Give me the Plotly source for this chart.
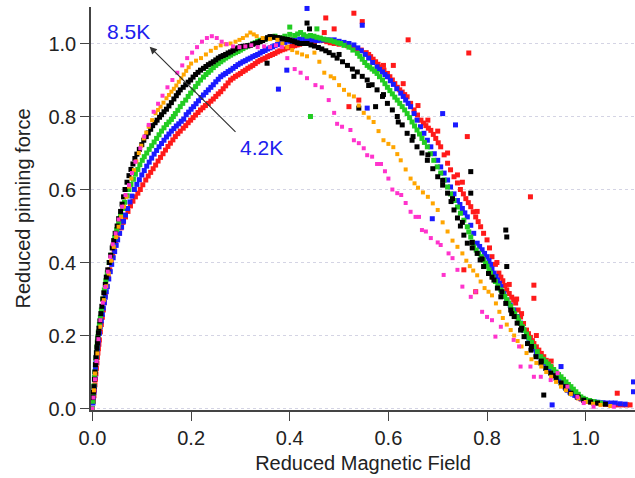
import plotly.graph_objects as go

# (reduced field, reduced pinning force) pairs
red_pts = [(0,0),(0.002,0.02),(0.003,0.035),(0.004,0.05),(0.005,0.065),(0.006,0.08),(0.007,0.095),(0.008,0.11),(0.009,0.125),(0.01,0.14),(0.011,0.152),(0.012,0.164),(0.013,0.176),(0.014,0.188),(0.016,0.21),(0.018,0.23),(0.02,0.25),(0.022,0.27),(0.024,0.29),(0.026,0.31),(0.029,0.335),(0.032,0.36),(0.035,0.38),(0.038,0.4),(0.041,0.42),(0.044,0.435),(0.047,0.45),(0.05,0.465),(0.054,0.48),(0.058,0.495),(0.062,0.51),(0.067,0.525),(0.072,0.54),(0.077,0.555),(0.082,0.568),(0.087,0.58),(0.092,0.59),(0.097,0.60),(0.102,0.613),(0.108,0.626),(0.113,0.637),(0.118,0.647),(0.123,0.657),(0.128,0.667),(0.133,0.678),(0.138,0.688),(0.143,0.698),(0.148,0.708),(0.153,0.718),(0.158,0.727),(0.163,0.736),(0.168,0.745),(0.173,0.753),(0.178,0.76),(0.184,0.768),(0.189,0.775),(0.194,0.783),(0.199,0.79),(0.204,0.797),(0.209,0.804),(0.214,0.811),(0.219,0.818),(0.224,0.824),(0.229,0.83),(0.235,0.836),(0.24,0.842),(0.245,0.848),(0.25,0.855),(0.255,0.862),(0.26,0.868),(0.265,0.876),(0.27,0.884),(0.275,0.892),(0.28,0.9),(0.285,0.905),(0.29,0.91),(0.295,0.914),(0.30,0.918),(0.305,0.923),(0.31,0.927),(0.315,0.932),(0.32,0.936),(0.325,0.94),(0.33,0.945),(0.335,0.95),(0.34,0.954),(0.345,0.957),(0.35,0.96),(0.355,0.964),(0.36,0.967),(0.365,0.97),(0.37,0.973),(0.375,0.977),(0.38,0.98),(0.385,0.983),(0.39,0.985),(0.395,0.988),(0.40,0.99),(0.405,0.992),(0.41,0.994),(0.415,0.996),(0.42,0.998),(0.43,1.0),(0.44,1.002),(0.45,1.005),(0.456,1.008),(0.462,1.012),(0.468,1.008),(0.475,1.005),(0.482,1.002),(0.49,1.0),(0.50,0.998),(0.51,1.0),(0.517,0.994),(0.525,0.99),(0.535,0.986),(0.545,0.982),(0.555,0.975),(0.56,0.97),(0.564,0.964),(0.569,0.957),(0.574,0.95),(0.579,0.943),(0.584,0.936),(0.591,0.927),(0.598,0.918),(0.603,0.909),(0.608,0.9),(0.613,0.89),(0.618,0.88),(0.623,0.873),(0.628,0.867),(0.633,0.86),(0.638,0.854),(0.645,0.836),(0.652,0.818),(0.659,0.804),(0.666,0.79),(0.671,0.782),(0.676,0.775),(0.681,0.768),(0.686,0.762),(0.691,0.751),(0.696,0.74),(0.701,0.728),(0.706,0.717),(0.713,0.695),(0.72,0.672),(0.726,0.654),(0.733,0.635),(0.74,0.618),(0.746,0.60),(0.752,0.588),(0.757,0.575),(0.762,0.564),(0.767,0.553),(0.772,0.539),(0.777,0.525),(0.782,0.512),(0.787,0.498),(0.793,0.48),(0.80,0.462),(0.805,0.44),(0.81,0.416),(0.817,0.395),(0.824,0.371),(0.828,0.36),(0.832,0.35),(0.836,0.337),(0.84,0.325),(0.845,0.315),(0.85,0.305),(0.854,0.297),(0.858,0.289),(0.863,0.27),(0.868,0.251),(0.874,0.233),(0.88,0.215),(0.884,0.205),(0.888,0.195),(0.892,0.186),(0.895,0.178),(0.9,0.169),(0.905,0.16),(0.91,0.151),(0.915,0.142),(0.92,0.132),(0.925,0.123),(0.93,0.114),(0.935,0.105),(0.94,0.096),(0.945,0.088),(0.95,0.079),(0.955,0.07),(0.96,0.062),(0.966,0.055),(0.971,0.048),(0.976,0.042),(0.981,0.036),(0.986,0.03),(0.991,0.026),(0.996,0.023),(1.003,0.02),(1.01,0.018),(1.017,0.016),(1.024,0.015),(1.032,0.013),(1.04,0.012),(1.048,0.011),(1.057,0.01),(1.066,0.01),(1.075,0.01),(1.083,0.01),(1.09,0.01),
           (0.66,0.83),(0.70,0.76),(0.72,0.70),(0.74,0.64),(0.78,0.54),(0.82,0.40),(0.86,0.30),(0.90,0.20),(0.93,0.13),(0.63,0.89),(0.59,0.94),(0.68,0.79),(0.75,0.62),(0.845,0.34),(0.87,0.26),
           (0.473,1.07),(0.53,1.083),(0.547,1.06),(0.49,1.04),(0.64,1.01),(0.763,0.974),(0.76,0.745),(0.888,0.58),(0.54,0.845),(0.52,0.827),(0.895,0.338),(0.895,0.302),(0.753,0.38),(0.777,0.32),(1.064,0.042),(0.47,1.03),(0.61,0.94)]

blue_pts = [(0,0),(0.001,0.015),(0.002,0.03),(0.003,0.045),(0.004,0.06),(0.005,0.085),(0.006,0.11),(0.007,0.125),(0.008,0.14),(0.009,0.152),(0.01,0.164),(0.011,0.176),(0.012,0.188),(0.014,0.206),(0.016,0.224),(0.018,0.24),(0.02,0.258),(0.022,0.275),(0.024,0.29),(0.026,0.305),(0.028,0.32),(0.03,0.334),(0.033,0.355),(0.036,0.375),(0.039,0.395),(0.042,0.413),(0.045,0.43),(0.048,0.447),(0.051,0.462),(0.055,0.48),(0.059,0.497),(0.063,0.513),(0.067,0.53),(0.071,0.548),(0.076,0.566),(0.08,0.582),(0.085,0.60),(0.09,0.614),(0.095,0.627),(0.1,0.64),(0.105,0.652),(0.11,0.664),(0.115,0.675),(0.12,0.686),(0.125,0.697),(0.13,0.707),(0.135,0.717),(0.14,0.726),(0.145,0.735),(0.15,0.744),(0.155,0.752),(0.16,0.76),(0.165,0.767),(0.17,0.774),(0.175,0.78),(0.18,0.787),(0.185,0.793),(0.19,0.805),(0.195,0.812),(0.2,0.82),(0.205,0.827),(0.21,0.835),(0.215,0.843),(0.22,0.852),(0.225,0.859),(0.23,0.866),(0.235,0.873),(0.24,0.88),(0.245,0.887),(0.25,0.895),(0.255,0.902),(0.26,0.909),(0.265,0.914),(0.27,0.918),(0.275,0.923),(0.28,0.927),(0.285,0.932),(0.29,0.937),(0.295,0.942),(0.30,0.946),(0.305,0.95),(0.31,0.953),(0.315,0.957),(0.32,0.96),(0.325,0.964),(0.33,0.967),(0.335,0.97),(0.34,0.974),(0.345,0.978),(0.35,0.981),(0.355,0.985),(0.36,0.988),(0.365,0.991),(0.37,0.994),(0.375,0.997),(0.38,1.0),(0.39,1.003),(0.40,1.006),(0.41,1.01),(0.42,1.012),(0.43,1.012),(0.44,1.01),(0.447,1.009),(0.455,1.008),(0.462,1.009),(0.47,1.01),(0.48,1.01),(0.49,1.01),(0.50,1.006),(0.51,1.003),(0.52,1.0),(0.53,0.996),(0.538,0.988),(0.545,0.98),(0.553,0.97),(0.56,0.96),(0.568,0.948),(0.577,0.936),(0.582,0.929),(0.588,0.922),(0.593,0.915),(0.598,0.909),(0.604,0.898),(0.61,0.888),(0.617,0.876),(0.625,0.864),(0.63,0.855),(0.635,0.845),(0.64,0.836),(0.645,0.827),(0.652,0.808),(0.658,0.79),(0.665,0.772),(0.672,0.754),(0.679,0.735),(0.686,0.717),(0.693,0.698),(0.70,0.68),(0.706,0.662),(0.713,0.645),(0.72,0.626),(0.726,0.607),(0.733,0.588),(0.74,0.57),(0.745,0.559),(0.75,0.548),(0.755,0.536),(0.76,0.525),(0.767,0.502),(0.773,0.48),(0.78,0.453),(0.785,0.444),(0.79,0.435),(0.795,0.425),(0.80,0.416),(0.804,0.405),(0.807,0.395),(0.81,0.383),(0.814,0.371),(0.818,0.362),(0.821,0.352),(0.825,0.343),(0.828,0.334),(0.834,0.315),(0.84,0.297),(0.847,0.283),(0.854,0.27),(0.861,0.252),(0.868,0.234),(0.874,0.215),(0.88,0.197),(0.885,0.186),(0.89,0.175),(0.895,0.163),(0.90,0.152),(0.905,0.142),(0.91,0.133),(0.916,0.124),(0.922,0.115),(0.927,0.107),(0.932,0.1),(0.938,0.093),(0.943,0.087),(0.948,0.077),(0.953,0.068),(0.958,0.059),(0.963,0.05),(0.968,0.045),(0.973,0.04),(0.978,0.036),(0.983,0.032),(0.99,0.028),(0.996,0.024),(1.003,0.021),(1.01,0.019),(1.018,0.018),(1.025,0.017),(1.035,0.016),(1.044,0.015),(1.052,0.015),(1.06,0.015),(1.07,0.013),(1.08,0.012),
            (0.435,1.096),(0.547,1.05),(0.557,0.823),(0.71,0.808),(0.736,0.777),(0.689,0.52),(1.097,0.073),(1.097,0.046),(0.95,0.115),(0.932,0.01),(0.394,0.927),(0.377,0.875)]

green_pts = [(0,0),(0.001,0.02),(0.002,0.04),(0.003,0.062),(0.004,0.085),(0.005,0.1),(0.006,0.12),(0.007,0.137),(0.008,0.153),(0.009,0.17),(0.01,0.184),(0.011,0.197),(0.012,0.21),(0.014,0.23),(0.016,0.25),(0.018,0.27),(0.021,0.3),(0.024,0.325),(0.027,0.35),(0.03,0.372),(0.034,0.4),(0.037,0.42),(0.041,0.445),(0.045,0.468),(0.049,0.49),(0.053,0.51),(0.057,0.53),(0.061,0.548),(0.065,0.565),(0.07,0.583),(0.074,0.60),(0.078,0.614),(0.083,0.628),(0.087,0.642),(0.092,0.655),(0.096,0.668),(0.101,0.68),(0.105,0.69),(0.11,0.70),(0.115,0.71),(0.12,0.72),(0.125,0.73),(0.13,0.74),(0.135,0.75),(0.14,0.76),(0.145,0.769),(0.15,0.778),(0.155,0.785),(0.16,0.792),(0.164,0.80),(0.168,0.808),(0.173,0.817),(0.178,0.827),(0.183,0.836),(0.189,0.845),(0.194,0.855),(0.199,0.864),(0.204,0.873),(0.209,0.882),(0.214,0.891),(0.219,0.90),(0.225,0.908),(0.23,0.915),(0.235,0.921),(0.24,0.927),(0.245,0.934),(0.25,0.94),(0.255,0.945),(0.26,0.95),(0.265,0.955),(0.27,0.96),(0.275,0.964),(0.28,0.968),(0.285,0.972),(0.29,0.975),(0.295,0.978),(0.30,0.982),(0.305,0.986),(0.31,0.99),(0.315,0.993),(0.32,0.995),(0.325,0.999),(0.33,1.002),(0.335,1.006),(0.34,1.009),(0.35,1.012),(0.36,1.015),(0.37,1.02),(0.38,1.016),(0.39,1.02),(0.40,1.025),(0.41,1.022),(0.416,1.026),(0.422,1.03),(0.428,1.024),(0.435,1.02),(0.442,1.022),(0.449,1.02),(0.455,1.017),(0.462,1.015),(0.469,1.012),(0.476,1.01),(0.483,1.008),(0.49,1.005),(0.497,1.002),(0.503,1.0),(0.51,0.995),(0.52,0.99),(0.528,0.982),(0.537,0.973),(0.542,0.965),(0.547,0.957),(0.552,0.948),(0.557,0.94),(0.562,0.935),(0.567,0.93),(0.572,0.924),(0.577,0.918),(0.582,0.909),(0.588,0.9),(0.593,0.89),(0.598,0.88),(0.603,0.871),(0.608,0.862),(0.613,0.853),(0.618,0.845),(0.623,0.836),(0.628,0.827),(0.633,0.818),(0.638,0.808),(0.643,0.797),(0.648,0.785),(0.653,0.774),(0.658,0.763),(0.663,0.752),(0.668,0.74),(0.673,0.729),(0.679,0.717),(0.685,0.698),(0.692,0.68),(0.699,0.662),(0.706,0.645),(0.713,0.626),(0.72,0.607),(0.726,0.588),(0.733,0.57),(0.74,0.552),(0.746,0.535),(0.753,0.516),(0.76,0.498),(0.763,0.484),(0.767,0.47),(0.77,0.456),(0.773,0.443),(0.778,0.434),(0.783,0.425),(0.788,0.416),(0.793,0.407),(0.797,0.398),(0.8,0.39),(0.804,0.38),(0.807,0.371),(0.812,0.36),(0.817,0.348),(0.822,0.336),(0.828,0.325),(0.832,0.316),(0.836,0.307),(0.84,0.298),(0.844,0.289),(0.848,0.28),(0.852,0.27),(0.856,0.26),(0.861,0.251),(0.864,0.242),(0.868,0.233),(0.872,0.224),(0.875,0.215),(0.88,0.204),(0.885,0.193),(0.89,0.181),(0.895,0.17),(0.902,0.156),(0.909,0.142),(0.914,0.135),(0.919,0.128),(0.924,0.122),(0.929,0.115),(0.935,0.107),(0.94,0.1),(0.945,0.093),(0.95,0.087),(0.955,0.08),(0.96,0.073),(0.965,0.066),(0.97,0.06),(0.975,0.053),(0.98,0.046),(0.985,0.039),(0.99,0.032),(0.995,0.028),(1.0,0.025),(1.008,0.022),(1.016,0.019),(1.023,0.017),(1.03,0.015),
             (0.442,0.80),(0.40,1.045),(0.455,1.04)]

black_pts = [(0.001,0.03),(0.002,0.045),(0.003,0.06),(0.004,0.08),(0.005,0.1),(0.006,0.12),(0.007,0.14),(0.008,0.153),(0.009,0.167),(0.01,0.18),(0.011,0.193),(0.012,0.207),(0.013,0.22),(0.015,0.24),(0.017,0.26),(0.019,0.28),(0.021,0.3),(0.023,0.317),(0.026,0.34),(0.028,0.36),(0.031,0.38),(0.034,0.4),(0.037,0.42),(0.04,0.44),(0.043,0.46),(0.046,0.48),(0.05,0.5),(0.053,0.52),(0.057,0.54),(0.06,0.56),(0.063,0.58),(0.066,0.6),(0.07,0.62),(0.074,0.638),(0.078,0.655),(0.082,0.67),(0.086,0.685),(0.09,0.697),(0.095,0.71),(0.1,0.723),(0.104,0.735),(0.109,0.745),(0.113,0.755),(0.118,0.765),(0.122,0.775),(0.127,0.783),(0.131,0.79),(0.136,0.798),(0.14,0.805),(0.145,0.813),(0.15,0.82),(0.155,0.829),(0.16,0.838),(0.165,0.848),(0.17,0.857),(0.174,0.865),(0.178,0.873),(0.184,0.88),(0.189,0.887),(0.194,0.894),(0.199,0.90),(0.204,0.908),(0.209,0.915),(0.214,0.921),(0.219,0.927),(0.225,0.932),(0.23,0.937),(0.235,0.942),(0.24,0.946),(0.245,0.95),(0.25,0.955),(0.255,0.96),(0.26,0.964),(0.265,0.967),(0.27,0.97),(0.275,0.974),(0.28,0.977),(0.285,0.981),(0.29,0.985),(0.295,0.988),(0.30,0.991),(0.305,0.992),(0.31,0.993),(0.315,0.994),(0.32,0.995),(0.325,0.998),(0.33,1.0),(0.335,1.002),(0.34,1.005),(0.345,1.008),(0.35,1.012),(0.355,1.016),(0.36,1.019),(0.365,1.018),(0.37,1.017),(0.375,1.016),(0.38,1.015),(0.385,1.013),(0.39,1.012),(0.395,1.011),(0.40,1.01),(0.405,1.007),(0.41,1.005),(0.415,1.002),(0.42,1.0),(0.428,1.0),(0.435,1.0),(0.443,0.996),(0.45,0.993),(0.458,0.989),(0.465,0.985),(0.473,0.98),(0.48,0.975),(0.488,0.968),(0.496,0.96),(0.5,0.97),(0.507,0.95),(0.517,0.94),(0.527,0.93),(0.53,0.91),(0.537,0.922),(0.547,0.91),(0.557,0.90),(0.56,0.885),(0.567,0.887),(0.577,0.873),(0.588,0.855),(0.59,0.86),(0.598,0.836),(0.608,0.818),(0.618,0.80),(0.62,0.785),(0.628,0.777),(0.638,0.754),(0.648,0.735),(0.65,0.745),(0.658,0.717),(0.668,0.7),(0.679,0.68),(0.68,0.695),(0.69,0.657),(0.70,0.635),(0.71,0.612),(0.71,0.625),(0.72,0.59),(0.727,0.567),(0.73,0.575),(0.733,0.544),(0.74,0.522),(0.746,0.5),(0.75,0.51),(0.753,0.475),(0.76,0.453),(0.77,0.44),(0.77,0.455),(0.78,0.425),(0.786,0.407),(0.79,0.41),(0.793,0.389),(0.803,0.37),(0.81,0.36),(0.814,0.352),(0.821,0.33),(0.828,0.306),(0.83,0.32),(0.838,0.288),(0.848,0.27),(0.85,0.26),(0.855,0.252),(0.861,0.234),(0.868,0.215),(0.87,0.22),(0.875,0.197),(0.882,0.178),(0.889,0.16),(0.89,0.17),(0.899,0.142),(0.909,0.125),(0.91,0.13),(0.919,0.11),(0.929,0.097),(0.935,0.09),(0.94,0.083),(0.95,0.07),(0.96,0.055),(0.96,0.06),(0.97,0.042),(0.983,0.032),(0.985,0.03),(0.996,0.023),(1.01,0.018),(1.024,0.015),(1.04,0.012),
             (0.435,1.056),(0.767,0.649),(0.767,0.59),(0.838,0.489),(0.84,0.47),(0.54,0.823),(0.574,0.827),(0.84,0.389),(0.915,0.037),(0.354,0.946),(0.44,1.04)]

orange_pts = [(0.003,0.05),(0.005,0.096),(0.01,0.151),(0.016,0.224),(0.023,0.297),(0.028,0.335),(0.033,0.37),(0.038,0.405),(0.043,0.443),(0.048,0.47),(0.053,0.498),(0.058,0.525),(0.064,0.553),(0.069,0.58),(0.074,0.608),(0.079,0.63),(0.084,0.653),(0.089,0.677),(0.094,0.70),(0.099,0.72),(0.104,0.74),(0.109,0.756),(0.114,0.772),(0.121,0.79),(0.128,0.809),(0.133,0.818),(0.138,0.827),(0.144,0.838),(0.15,0.85),(0.155,0.859),(0.16,0.868),(0.165,0.876),(0.17,0.885),(0.175,0.895),(0.18,0.905),(0.185,0.915),(0.19,0.925),(0.195,0.935),(0.2,0.945),(0.21,0.953),(0.22,0.96),(0.23,0.97),(0.24,0.98),(0.25,0.988),(0.26,0.995),(0.27,0.998),(0.28,1.0),(0.29,1.005),(0.298,1.01),(0.305,1.015),(0.313,1.022),(0.32,1.03),(0.327,1.025),(0.333,1.02),(0.345,1.015),(0.36,1.012),(0.375,1.01),(0.385,1.0),(0.395,0.99),(0.405,0.982),(0.415,0.975),(0.425,0.97),(0.435,0.965),(0.45,0.975),(0.46,0.95),(0.47,0.92),(0.483,0.91),(0.49,0.905),(0.50,0.886),(0.51,0.873),(0.52,0.86),(0.53,0.855),(0.54,0.83),(0.55,0.81),(0.56,0.797),(0.57,0.785),(0.58,0.76),(0.59,0.735),(0.6,0.725),(0.61,0.716),(0.618,0.697),(0.625,0.68),(0.635,0.655),(0.645,0.63),(0.653,0.617),(0.66,0.605),(0.67,0.592),(0.68,0.58),(0.69,0.562),(0.70,0.544),(0.71,0.51),(0.72,0.485),(0.73,0.46),(0.74,0.443),(0.75,0.425),(0.758,0.405),(0.765,0.39),(0.772,0.378),(0.78,0.365),(0.787,0.348),(0.795,0.33),(0.803,0.32),(0.81,0.31),(0.818,0.288),(0.825,0.265),(0.832,0.248),(0.84,0.23),(0.848,0.215),(0.855,0.20),(0.862,0.185),(0.87,0.17),(0.88,0.152),(0.89,0.135),(0.9,0.125),(0.91,0.115),(0.92,0.1),(0.93,0.087),(0.94,0.073),(0.95,0.06),(0.96,0.05),(0.97,0.04),(0.985,0.028),(1.0,0.018),(1.015,0.013),(1.03,0.01),(1.05,0.007)]

magenta_pts = [(0,0),(0.002,0.03),(0.005,0.08),(0.008,0.13),(0.012,0.19),(0.016,0.242),(0.021,0.29),(0.026,0.333),(0.031,0.375),(0.036,0.416),(0.041,0.45),(0.047,0.48),(0.053,0.518),(0.06,0.553),(0.067,0.585),(0.074,0.612),(0.08,0.645),(0.087,0.676),(0.097,0.713),(0.105,0.745),(0.114,0.777),(0.124,0.813),(0.133,0.835),(0.142,0.857),(0.152,0.88),(0.162,0.9),(0.172,0.92),(0.182,0.94),(0.192,0.96),(0.202,0.975),(0.212,0.99),(0.222,1.005),(0.232,1.015),(0.242,1.02),(0.252,1.015),(0.262,1.005),(0.272,0.998),(0.285,0.992),(0.298,0.99),(0.31,0.992),(0.322,0.995),(0.335,0.99),(0.348,0.992),(0.36,0.99),(0.372,0.995),(0.384,0.99),(0.395,0.96),(0.41,0.93),(0.422,0.92),(0.435,0.905),(0.452,0.886),(0.465,0.88),(0.479,0.845),(0.49,0.81),(0.496,0.78),(0.506,0.772),(0.523,0.763),(0.53,0.735),(0.54,0.727),(0.55,0.713),(0.557,0.694),(0.567,0.69),(0.577,0.67),(0.585,0.67),(0.593,0.65),(0.60,0.63),(0.608,0.60),(0.618,0.59),(0.626,0.585),(0.635,0.563),(0.645,0.539),(0.655,0.525),(0.662,0.525),(0.668,0.489),(0.676,0.485),(0.686,0.467),(0.70,0.455),(0.706,0.448),(0.712,0.366),(0.722,0.425),(0.73,0.412),(0.74,0.38),(0.75,0.334),(0.767,0.306),(0.777,0.32),(0.79,0.265),(0.80,0.251),(0.81,0.242),(0.817,0.197),(0.828,0.224),(0.854,0.188),(0.865,0.17),(0.868,0.115),(0.888,0.115),(0.895,0.087),(0.909,0.087),(0.929,0.078),(0.943,0.097),(0.963,0.06),(0.983,0.032),(0.996,0.015),(1.016,0.005),(1.057,0.005)]

series = [
    ("4.2K", red_pts, "#ff1a1a", 5),
    ("blue", blue_pts, "#1a1aff", 5),
    ("green", green_pts, "#22cc22", 5),
    ("black", black_pts, "#000000", 5),
    ("orange", orange_pts, "#ffa500", 4),
    ("8.5K", magenta_pts, "#ff33cc", 4),
]

x_ticks = [0.0, 0.2, 0.4, 0.6, 0.8, 1.0]
y_ticks = [0.0, 0.2, 0.4, 0.6, 0.8, 1.0]

fig = go.Figure()
for name, pts, color, size in series:
    fig.add_trace(go.Scatter(
        x=[p[0] for p in pts], y=[p[1] for p in pts], mode="markers", name=name,
        marker=dict(symbol="square", size=size, color=color, line=dict(width=0)),
        showlegend=False, cliponaxis=False))

font_family = "Liberation Sans, Arial, sans-serif"
text_color = "#222222"
axis_common = dict(
    showline=True, linecolor="#444444", linewidth=1.5,
    ticks="outside", ticklen=9, tickwidth=1.2, tickcolor="#444444",
    tickfont=dict(family=font_family, size=20, color=text_color),
    zeroline=False, tickformat=".1f",
)
fig.update_xaxes(range=[-0.003, 1.1], tickvals=x_ticks, showgrid=False,
                 title=dict(text="Reduced Magnetic Field", font=dict(family=font_family, size=20, color=text_color), standoff=8),
                 **axis_common)
fig.update_yaxes(range=[-0.004, 1.1], tickvals=y_ticks, showgrid=True,
                 gridcolor="#d4d4e4", griddash="dot", gridwidth=1,
                 title=dict(text="Reduced pinning force", font=dict(family=font_family, size=20, color=text_color), standoff=12),
                 **axis_common)

fig.add_annotation(x=0.116, y=0.991, ax=0.293, ay=0.754, xref="x", yref="y", axref="x", ayref="y",
                   showarrow=True, arrowhead=2, arrowsize=1.2, arrowwidth=1.2, arrowcolor="#333333", text="")
fig.add_annotation(x=0.073, y=1.034, text="8.5K", showarrow=False,
                   font=dict(family=font_family, size=21, color="#2020ee"))
fig.add_annotation(x=0.343, y=0.714, text="4.2K", showarrow=False,
                   font=dict(family=font_family, size=21, color="#2020ee"))

fig.update_layout(width=635, height=478, margin=dict(l=91, r=0, t=7, b=68),
                  plot_bgcolor="white", paper_bgcolor="white")
fig.write_html("out.html")
